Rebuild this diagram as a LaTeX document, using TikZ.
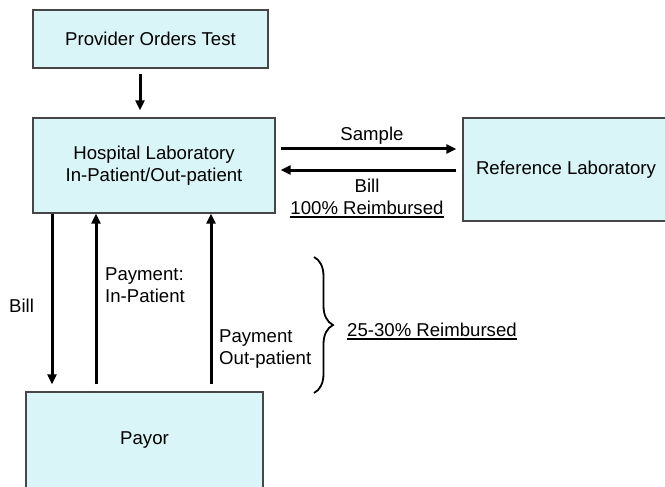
\documentclass[tikz,border=0pt]{standalone}
\usepackage{fontspec}
\setmainfont{Liberation Sans}
\usetikzlibrary{arrows.meta,decorations.pathreplacing}

\definecolor{boxfill}{RGB}{217,245,248}
\definecolor{boxline}{RGB}{70,70,70}

\tikzset{
  flowbox/.style={draw=boxline, line width=1.2pt, fill=boxfill, inner sep=0pt,
    align=center, font=\fontsize{18.6}{22}\selectfont},
  lbl/.style={inner sep=0pt, font=\fontsize{18.6}{22}\selectfont,
    text height=13.5pt, text depth=3.5pt},
  mlbl/.style={inner sep=0pt, align=left, font=\fontsize{18.6}{22}\selectfont},
  arr/.style={line width=3pt, -{Triangle[length=10pt,width=9pt]}},
  uline/.style={line width=1.1pt}
}

\begin{document}
\begin{tikzpicture}[x=1pt, y=-1pt]
  \useasboundingbox (0,0) rectangle (665,487);
  \clip (0,0) rectangle (665,487);

  % boxes
  \node[flowbox, minimum width=235pt, minimum height=58pt] (prov) at (150.5,39) {Provider Orders Test};
  \node[flowbox, minimum width=242pt, minimum height=95pt] (hosp) at (154,165.5)
    {Hospital Laboratory\\In-Patient/Out-patient};
  \node[flowbox, minimum width=206pt, minimum height=103pt] (ref) at (566,169.5) {Reference Laboratory};
  \node[flowbox, minimum width=237pt, minimum height=96pt] (payor) at (144.5,440) {Payor};

  % order flow
  \draw[arr, shorten <=5pt, shorten >=7pt] ([xshift=-10.5pt]prov.south) -- ([xshift=-10.5pt]prov.south |- hosp.north);

  % hospital <-> reference laboratory
  \draw[arr, shorten <=5pt, shorten >=6pt] ([yshift=16.5pt]hosp.east) -- ([yshift=16.5pt]hosp.east -| ref.west);
  \draw[arr, shorten <=6pt, shorten >=5pt] ([yshift=-0.5pt]ref.west) -- ([yshift=-0.5pt]ref.west -| hosp.east);
  \node[lbl] (sample) at (372,135) {Sample};
  \node[lbl] (bill1) at (367,187) {Bill};
  \node[lbl] (full) at (367,209) {100\% Reimbursed};
  \draw[uline] ([yshift=-3pt]full.base west) -- ([yshift=-3pt]full.base east);

  % hospital <-> payor
  \draw[arr, shorten >=7pt] ([xshift=-102pt]hosp.south) -- ([xshift=-102pt]hosp.south |- payor.north);
  \draw[arr, shorten <=7pt] ([xshift=-58pt]hosp.south |- payor.north) -- ([xshift=-58pt]hosp.south);
  \draw[arr, shorten <=7pt] ([xshift=57pt]hosp.south |- payor.north) -- ([xshift=57pt]hosp.south);
  \node[lbl] (bill2) at (21.5,307) {Bill};
  \node[mlbl, anchor=west] (payin) at (105,285) {Payment:\\In-Patient};
  \node[mlbl, anchor=west] (payout) at (219,349) {Payment\\Out-patient};

  % brace grouping the payments
  \coordinate (btop) at (314,257);
  \coordinate (bbot) at (314,393);
  \draw[line width=1.8pt, decorate, decoration={brace, amplitude=19pt}] (btop) -- (bbot);
  \node[lbl, anchor=west] (part) at (347,331) {25-30\% Reimbursed};
  \draw[uline] ([yshift=-3pt]part.base west) -- ([yshift=-3pt]part.base east);
\end{tikzpicture}
\end{document}
